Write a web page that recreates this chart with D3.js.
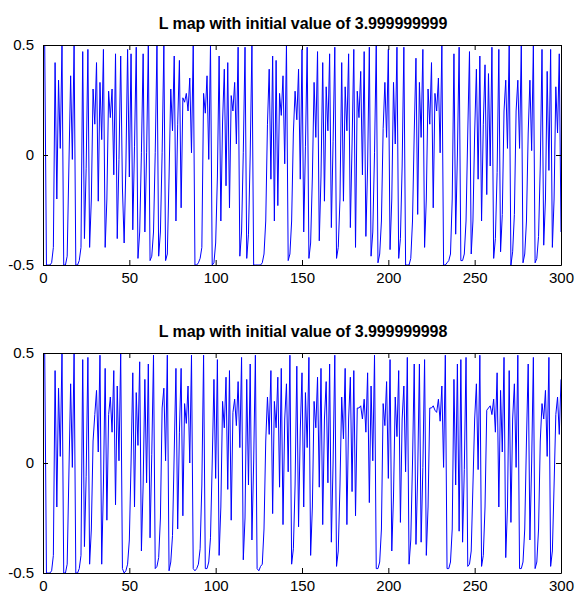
<!DOCTYPE html>
<html>
<head>
<meta charset="utf-8">
<script src="https://cdn.jsdelivr.net/npm/d3@7"></script>
<style>
  body { margin: 0; background: #fff; }
  svg { display: block; font-family: "Liberation Sans", Arial, sans-serif; }
</style>
</head>
<body>
<div id="chart"></div>
<script>
const titles = [
  "L map with initial value of 3.999999999",
  "L map with initial value of 3.999999998"
];
const xTicks = [0, 50, 100, 150, 200, 250, 300];
const yTicks = [-0.5, 0, 0.5];

const seriesA = [
  0.5, -0.5, -0.5, -0.5, -0.49, -0.42, 0.42, -0.2, 0.34, 0.03,
  0.5, -0.5, -0.5, -0.46, -0.05, 0.36, -0.02, 0.5, -0.5, -0.5,
  -0.48, -0.42, 0.47, -0.38, -0.06, 0.48, -0.42, -0.2, 0.3, 0.14,
  0.42, -0.21, 0.33, 0.07, 0.48, -0.42, -0.2, 0.29, 0.17, 0.3,
  -0.09, 0.46, -0.38, -0.02, 0.45, -0.15, -0.4, -0.05, 0.48, -0.1,
  0.46, -0.34, 0.04, 0.49, -0.47, -0.35, 0.01, 0.46, -0.35, 0.01,
  0.5, -0.48, -0.46, -0.35, 0.01, 0.5, -0.46, -0.35, 0.01, 0.5,
  -0.48, -0.45, -0.1, 0.3, 0.11, 0.45, -0.3, 0.14, 0.43, -0.24,
  0.26, 0.24, 0.28, 0.2, 0.35, 0.01, 0.5, -0.5, -0.5, -0.49,
  -0.47, -0.42, 0.28, 0.19, 0.36, -0.02, 0.5, -0.5, -0.49, -0.4,
  -0.1, 0.45, -0.3, 0.15, 0.39, -0.14, 0.42, -0.24, 0.27, 0.2,
  0.33, 0.05, 0.49, -0.46, -0.35, 0.01, 0.49, -0.47, -0.36, 0.0,
  0.5, -0.5, -0.5, -0.5, -0.5, -0.5, -0.49, -0.45, -0.3, 0.14,
  0.39, -0.11, 0.45, -0.3, 0.43, -0.23, 0.28, 0.18, 0.36, -0.04,
  0.5, -0.48, -0.45, -0.3, 0.1, 0.29, 0.16, 0.39, -0.11, 0.48,
  -0.35, 0.04, 0.49, -0.47, -0.4, -0.1, 0.33, 0.08, 0.47, -0.39,
  -0.1, 0.42, -0.21, 0.31, 0.11, 0.46, -0.33, 0.06, 0.49, -0.47,
  -0.42, -0.2, 0.42, -0.21, 0.31, 0.11, 0.46, -0.33, 0.05, 0.48,
  -0.42, 0.29, 0.17, 0.38, -0.09, 0.47, -0.37, -0.05, 0.49, -0.46,
  -0.35, 0.01, 0.5, -0.49, -0.45, -0.3, 0.12, 0.33, 0.08, 0.48,
  -0.43, -0.2, 0.33, 0.05, 0.49, -0.47, -0.38, -0.05, 0.49, -0.5,
  -0.5, -0.5, -0.47, -0.3, 0.1, 0.44, -0.27, 0.33, 0.08, 0.48,
  -0.42, -0.2, 0.3, 0.14, 0.42, -0.24, 0.28, 0.2, 0.35, 0.01,
  0.5, -0.5, -0.5, -0.49, -0.48, -0.45, -0.2, 0.46, -0.36, 0.0,
  0.49, -0.48, -0.48, -0.45, -0.3, 0.1, 0.47, -0.45, -0.3, 0.1,
  0.39, -0.11, 0.45, -0.3, 0.14, 0.41, -0.18, 0.37, -0.05, 0.49,
  -0.47, -0.38, -0.08, 0.48, -0.44, -0.27, 0.2, 0.34, 0.03, 0.5,
  -0.5, -0.44, -0.27, 0.2, 0.34, 0.03, 0.5, -0.49, -0.45, -0.3,
  0.1, 0.34, 0.02, 0.5, -0.49, -0.47, -0.37, -0.05, 0.48, -0.41,
  -0.2, 0.38, -0.07, 0.48, -0.42, -0.2, 0.31, 0.1, 0.46, -0.35
];

const seriesB = [
  0.5, -0.5, -0.5, -0.5, -0.49, -0.42, 0.42, -0.2, 0.34, 0.03,
  0.5, -0.5, -0.5, -0.46, -0.05, 0.36, -0.02, 0.5, -0.5, -0.5,
  -0.48, -0.42, 0.47, -0.38, -0.06, 0.48, -0.46, -0.3, 0.1, 0.22,
  0.33, 0.05, 0.49, -0.46, -0.1, 0.43, -0.26, 0.22, 0.3, 0.14,
  0.42, -0.19, 0.35, 0.01, 0.5, -0.48, -0.5, -0.49, -0.46, -0.35,
  0.0, 0.41, -0.2, 0.32, 0.08, 0.46, -0.4, -0.1, 0.38, -0.09,
  0.45, -0.34, 0.04, 0.49, -0.48, -0.47, -0.43, -0.25, 0.25, 0.34,
  0.01, 0.49, -0.49, -0.45, -0.33, 0.05, 0.43, -0.3, 0.14, 0.43,
  -0.24, 0.27, 0.18, 0.35, 0.0, 0.49, -0.48, -0.49, -0.48, -0.46,
  -0.39, -0.1, 0.49, -0.48, -0.48, -0.45, -0.34, 0.0, 0.38, -0.07,
  0.47, -0.42, -0.2, 0.28, 0.16, 0.39, -0.12, 0.42, -0.26, 0.23,
  0.29, 0.17, 0.37, 0.07, 0.48, -0.44, -0.25, 0.38, -0.1, 0.45,
  -0.35, 0.0, 0.49, -0.48, -0.49, -0.47, -0.46, -0.3, 0.1, 0.3,
  0.13, 0.42, -0.23, 0.28, 0.16, 0.39, -0.11, 0.43, -0.28, 0.2,
  0.36, -0.04, 0.49, -0.46, -0.39, -0.1, 0.44, -0.29, 0.15, 0.41,
  -0.2, 0.32, 0.07, 0.48, -0.42, -0.2, 0.28, 0.16, 0.39, -0.11,
  0.43, -0.28, 0.2, 0.37, -0.09, 0.45, -0.36, 0.0, 0.49, -0.47,
  -0.4, -0.1, 0.3, 0.11, 0.43, -0.28, 0.2, 0.39, -0.13, 0.42,
  -0.24, 0.25, 0.25, 0.26, 0.2, 0.29, 0.14, 0.41, -0.18, 0.35,
  0.01, 0.49, -0.48, -0.48, -0.45, -0.3, 0.27, 0.17, 0.37, -0.07,
  0.47, -0.4, -0.15, 0.3, 0.12, 0.42, -0.27, 0.2, 0.35, -0.04,
  0.48, -0.46, -0.35, 0.0, 0.45, -0.37, -0.05, 0.45, -0.36, -0.02,
  0.47, -0.42, -0.2, 0.25, 0.25, 0.26, 0.24, 0.23, 0.29, 0.19,
  0.35, -0.02, 0.49, -0.48, -0.48, -0.45, -0.3, 0.38, -0.1, 0.45,
  -0.31, 0.47, -0.36, -0.03, 0.48, -0.47, -0.46, -0.4, -0.1, 0.2,
  0.36, -0.03, 0.49, -0.47, -0.42, -0.2, 0.24, 0.25, 0.26, 0.22,
  0.29, 0.14, 0.41, -0.2, 0.33, 0.05, 0.48, -0.43, -0.2, 0.42,
  -0.27, 0.2, 0.36, -0.02, 0.49, -0.48, -0.48, -0.45, -0.3, 0.1,
  0.45, -0.35, 0.0, 0.48, -0.48, -0.45, -0.3, 0.1, 0.27, 0.2,
  0.33, 0.03, 0.48, -0.47, -0.4, -0.1, 0.22, 0.3, 0.13, 0.38
];

const width = 579, height = 595;
const svg = d3.select("#chart")
  .append("svg")
  .attr("width", width)
  .attr("height", height);

const margin = { left: 43, right: 18 };
const plotW = width - margin.left - margin.right;
const plotH = 220;

const x = d3.scaleLinear().domain([0, 300]).range([0, plotW]);
const y = d3.scaleLinear().domain([-0.5, 0.5]).range([plotH, 0]);

function drawPanel(top, values, title) {
  const g = svg.append("g")
    .attr("transform", `translate(${margin.left},${top})`);

  const clipId = "clip" + top;
  g.append("clipPath").attr("id", clipId)
    .append("rect").attr("width", plotW).attr("height", plotH);

  // the series
  g.append("path")
    .datum(values)
    .attr("clip-path", `url(#${clipId})`)
    .attr("fill", "none")
    .attr("stroke", "#0000ff")
    .attr("stroke-width", 1)
    .attr("d", d3.line()
      .x((d, i) => x(i + 1))
      .y(d => y(d)));

  // axes, ticks pointing inward like matlab
  const fmt = d => String(d);
  g.append("g")
    .attr("transform", `translate(0,${plotH})`)
    .call(d3.axisBottom(x).tickValues(xTicks).tickFormat(fmt).tickSizeInner(-5).tickSizeOuter(0).tickPadding(7));
  g.append("g")
    .call(d3.axisTop(x).tickValues(xTicks).tickFormat("").tickSizeInner(-5).tickSizeOuter(0));
  g.append("g")
    .call(d3.axisLeft(y).tickValues(yTicks).tickFormat(fmt).tickSizeInner(-5).tickSizeOuter(0).tickPadding(9));
  g.append("g")
    .attr("transform", `translate(${plotW},0)`)
    .call(d3.axisRight(y).tickValues(yTicks).tickFormat("").tickSizeInner(-5).tickSizeOuter(0));

  g.selectAll(".tick text")
    .attr("fill", "#000")
    .style("font-size", "15px")
    .style("font-family", "'Liberation Sans', Arial, sans-serif");
  g.selectAll(".domain").attr("stroke", "#000");
  g.selectAll(".tick line").attr("stroke", "#000");

  g.append("text")
    .attr("x", plotW / 2 + 1)
    .attr("y", -16)
    .attr("text-anchor", "middle")
    .style("font-size", "16px")
    .style("font-weight", "bold")
    .style("letter-spacing", "-0.1px")
    .text(title);
}

drawPanel(45, seriesA, titles[0]);
drawPanel(353, seriesB, titles[1]);
</script>
</body>
</html>
